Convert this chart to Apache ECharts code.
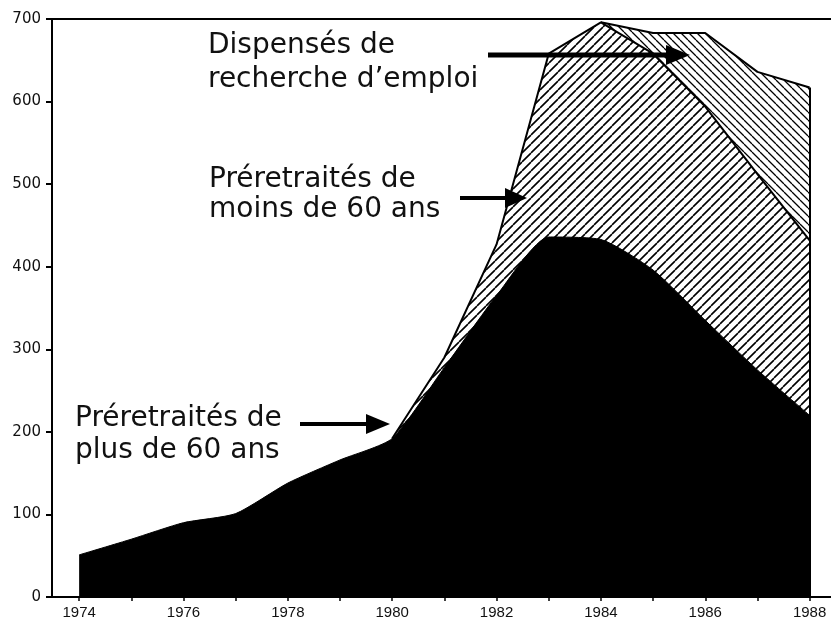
<!DOCTYPE html>
<html>
<head>
<meta charset="utf-8">
<title>Préretraités et dispensés de recherche d'emploi</title>
<script src="https://cdn.jsdelivr.net/npm/echarts@6/dist/echarts.min.js"></script>
<style>
  html, body { margin: 0; padding: 0; background: #fff; }
  #chart { width: 831px; height: 622px; }
</style>
</head>
<body>
<div id="chart"></div>
<script>
// valeurs (milliers)
var years = [1974, 1975, 1976, 1977, 1978, 1979, 1980, 1981, 1982, 1983, 1984, 1985, 1986, 1987, 1988];
var plus60 = [51, 70, 90, 101, 138, 166, 192, 278, 365, 436, 433, 396, 335, 275, 220];
var moins60 = [null, null, null, null, null, null, 0, 12, 62, 222, 263, 262, 259, 237, 212];
var dispenses = [null, null, null, null, null, null, null, null, null, null, 0, 25, 89, 124, 185];
var xTicks = years;
var xLabels = [1974, 1976, 1978, 1980, 1982, 1984, 1986, 1988];

// cumuls : les aires sont superposées (la plus haute dessous), pas empilées par echarts
function cumul(arr, below) {
  return years.map(function (y, i) {
    if (arr[i] == null) return [y, '-'];
    return [y, arr[i] + (below ? below[i][1] : 0)];
  });
}
var dPlus = cumul(plus60);
var dMoins = cumul(moins60, dPlus);
var dDisp = cumul(dispenses, dMoins);

// hachures : dir 1 = "/", dir -1 = "\"
function hatch(dir, step, lw) {
  var c = document.createElement('canvas');
  c.width = step;
  c.height = step;
  var ctx = c.getContext('2d');
  ctx.fillStyle = '#fff';
  ctx.fillRect(0, 0, step, step);
  ctx.strokeStyle = '#000';
  ctx.lineWidth = lw;
  ctx.beginPath();
  for (var k = -1; k <= 1; k++) {
    if (dir > 0) {
      ctx.moveTo(k * step, step);
      ctx.lineTo(k * step + step, 0);
    } else {
      ctx.moveTo(k * step, 0);
      ctx.lineTo(k * step + step, step);
    }
  }
  ctx.stroke();
  return c;
}

var last = years.length - 1;

function label(x, y, txt, lh) {
  return {
    type: 'text', x: x, y: y, silent: true, z: 100,
    style: { text: txt, font: '28px "DejaVu Sans"', fill: '#111', lineHeight: lh, verticalAlign: 'top' }
  };
}
function arrow(x1, x2, y, headLen, headHalf, w) {
  return [
    { type: 'line', silent: true, z: 100, shape: { x1: x1, y1: y, x2: x2 - headLen + 2, y2: y }, style: { stroke: '#000', lineWidth: w } },
    { type: 'polygon', silent: true, z: 100, shape: { points: [[x2 - headLen, y - headHalf], [x2, y], [x2 - headLen, y + headHalf]] }, style: { fill: '#000' } }
  ];
}

var chart = echarts.init(document.getElementById('chart'));
chart.setOption({
  animation: false,
  backgroundColor: '#fff',
  grid: { left: 52, right: 0, top: 19, bottom: 25 },
  xAxis: [
    {
      type: 'value',
      min: 1973.48,
      max: 1988.41,
      axisLine: { show: true, lineStyle: { color: '#000', width: 2 } },
      axisTick: { show: true, customValues: xTicks, length: 4, lineStyle: { color: '#000', width: 1.5 } },
      axisLabel: {
        customValues: xLabels, margin: 8, color: '#111',
        fontFamily: 'Liberation Sans', fontSize: 15,
        formatter: function (v) { return String(v); }
      },
      splitLine: { show: false }
    },
    {
      type: 'value',
      position: 'top',
      min: 1973.48,
      max: 1988.41,
      axisLine: { show: true, onZero: false, lineStyle: { color: '#000', width: 2 } },
      axisTick: { show: false },
      axisLabel: { show: false },
      splitLine: { show: false }
    }
  ],
  yAxis: {
    type: 'value',
    min: 0,
    max: 700,
    interval: 100,
    axisLine: { show: true, lineStyle: { color: '#000', width: 2 } },
    axisTick: { show: true, length: 6, lineStyle: { color: '#000', width: 2 } },
    axisLabel: { margin: 11, color: '#111', fontFamily: 'DejaVu Sans', fontSize: 15 },
    splitLine: { show: false }
  },
  series: [
    {
      name: "Dispensés de recherche d'emploi",
      type: 'line',
      showSymbol: false,
      data: dDisp,
      lineStyle: { color: '#000', width: 2 },
      areaStyle: { color: { image: hatch(-1, 8, 1.3), repeat: 'repeat' }, opacity: 1 },
      markLine: {
        silent: true,
        symbol: 'none',
        label: { show: false },
        lineStyle: { color: '#000', width: 2, type: 'solid' },
        data: [[{ coord: [years[last], 0] }, { coord: [years[last], dDisp[last][1]] }]]
      },
      z: 2
    },
    {
      name: 'Préretraités de moins de 60 ans',
      type: 'line',
      showSymbol: false,
      data: dMoins,
      lineStyle: { color: '#000', width: 2 },
      areaStyle: { color: { image: hatch(1, 9, 1.6), repeat: 'repeat' }, opacity: 1 },
      z: 3
    },
    {
      name: 'Préretraités de plus de 60 ans',
      type: 'line',
      smooth: 0.2,
      showSymbol: false,
      data: dPlus,
      lineStyle: { color: '#000', width: 1 },
      areaStyle: { color: '#000', opacity: 1 },
      z: 4
    }
  ],
  graphic: [
    label(208, 29, "Dispensés de\nrecherche d\u2019emploi", 34),
    label(209, 165, 'Préretraités de\nmoins de 60 ans', 30),
    label(75, 403, 'Préretraités de\nplus de 60 ans', 32)
  ]
    .concat(arrow(488, 690, 55, 24, 10, 5))
    .concat(arrow(460, 527, 198, 22, 10, 4))
    .concat(arrow(300, 390, 424, 24, 10, 4))
});
</script>
</body>
</html>
